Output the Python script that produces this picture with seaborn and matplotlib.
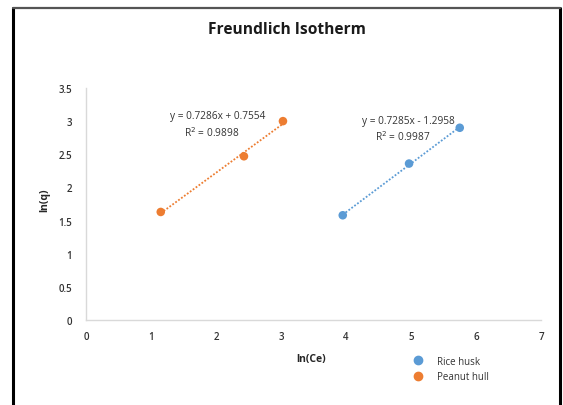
import numpy as np
import pandas as pd
import matplotlib
matplotlib.use("Agg")
import matplotlib.pyplot as plt
import seaborn as sns
from matplotlib.lines import Line2D

# data
rice_x = [3.95, 4.97, 5.75]
rice_y = [1.58, 2.36, 2.90]
peanut_x = [1.15, 2.43, 3.03]
peanut_y = [1.63, 2.47, 3.00]
series_names = ["Rice husk", "Peanut hull"]
colors = ["#5B9BD5", "#ED7D31"]
eq_rice = ["y = 0.7285x - 1.2958", "R$^2$ = 0.9987"]
eq_peanut = ["y = 0.7286x + 0.7554", "R$^2$ = 0.9898"]
x_ticks = [0, 1, 2, 3, 4, 5, 6, 7]
y_ticks = [0, 0.5, 1, 1.5, 2, 2.5, 3, 3.5]
y_ticklabels = ["0", "0.5", "1", "1.5", "2", "2.5", "3", "3.5"]

df = pd.DataFrame({
    "x": rice_x + peanut_x,
    "y": rice_y + peanut_y,
    "series": [series_names[0]] * len(rice_x) + [series_names[1]] * len(peanut_x),
})

sns.set_style("white")
plt.rcParams["font.family"] = ["Open Sans", "DejaVu Sans"]

fig = plt.figure(figsize=(5.63, 4.06), dpi=100)
ax = fig.add_axes([86 / 563, 1 - 321 / 406, (541 - 86) / 563, (321 - 89) / 406])

# trendlines
for sub, c in zip(series_names, colors):
    d = df[df.series == sub]
    sns.regplot(data=d, x="x", y="y", ax=ax, scatter=False, ci=None, truncate=True,
                line_kws=dict(color=c, lw=1.3, ls=(0, (1, 1))))

sns.scatterplot(data=df, x="x", y="y", hue="series", palette=colors, ax=ax,
                s=38, edgecolor="none", legend=False, zorder=3)

ax.set_xlim(0, 7)
ax.set_ylim(0, 3.5)
ax.set_xticks(x_ticks)
ax.set_yticks(y_ticks)
ax.set_yticklabels(y_ticklabels)
ax.tick_params(axis="both", length=0, labelsize=7, colors="#333333")
ax.tick_params(axis="x", pad=8)
ax.tick_params(axis="y", pad=10)
for lab in ax.get_xticklabels() + ax.get_yticklabels():
    lab.set_fontweight("semibold")
for s in ["top", "right"]:
    ax.spines[s].set_visible(False)
for s in ["left", "bottom"]:
    ax.spines[s].set_color("#D9D9D9")
    ax.spines[s].set_linewidth(1.0)

ax.set_xlabel("")
ax.set_ylabel("")
fig.text(311 / 563, 1 - 360 / 406, "ln(Ce)", ha="center", va="center",
         fontsize=7.5, fontweight="bold", color="#262626")
fig.text(45 / 563, 1 - 200 / 406, "ln(q)", ha="center", va="center", rotation=90,
         fontsize=7.5, fontweight="bold", color="#262626")
fig.text(287 / 563, 1 - 30 / 406, "Freundlich Isotherm", ha="center", va="center",
         fontsize=11.2, fontweight="bold", color="#1a1a1a")

# equations
eq_kw = dict(transform=fig.transFigure, ha="center", va="center", fontsize=7.3,
             color="#333333")
ax.text(218 / 563, 1 - 117 / 406, eq_peanut[0], **eq_kw)
ax.text(212 / 563, 1 - 133 / 406, eq_peanut[1], **eq_kw)
ax.text(408 / 563, 1 - 122 / 406, eq_rice[0], **eq_kw)
ax.text(403 / 563, 1 - 137 / 406, eq_rice[1], **eq_kw)

# legend
handles = [Line2D([], [], ls="none", marker="o", color=c, markersize=6) for c in colors]
leg = fig.legend(handles, series_names, loc="upper left",
                 bbox_to_anchor=(406 / 563, 1 - 352 / 406), frameon=False,
                 fontsize=7, labelcolor="#333333", handletextpad=1.2,
                 labelspacing=0.45, borderpad=0, handlelength=1.5)

# outer frame
fig.add_artist(Line2D([13 / 563, 13 / 563], [0, 1 - 9 / 406], transform=fig.transFigure,
                      color="black", lw=2.2))
fig.add_artist(Line2D([560 / 563, 560 / 563], [0, 1 - 9 / 406], transform=fig.transFigure,
                      color="black", lw=2.2))
fig.add_artist(Line2D([13 / 563, 560 / 563], [1 - 9 / 406, 1 - 9 / 406], transform=fig.transFigure,
                      color="#555555", lw=1.6))

fig.savefig("out.png", dpi=100)
